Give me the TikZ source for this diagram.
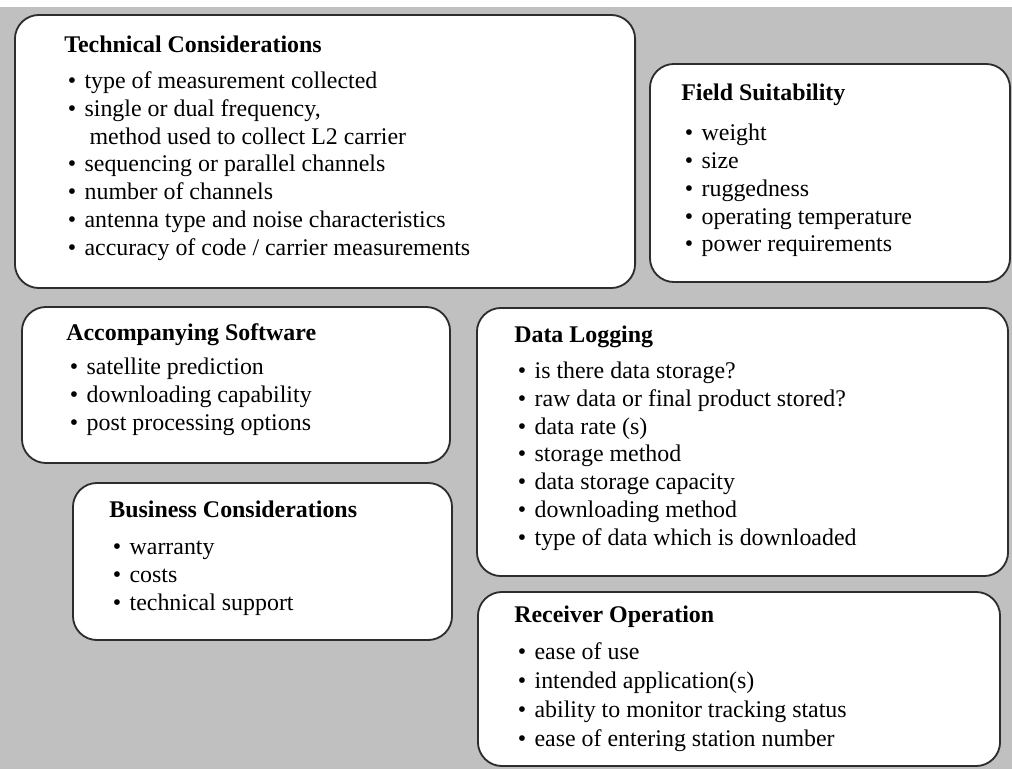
\documentclass[tikz,border=0pt]{standalone}
\usepackage{fontspec}
\setmainfont{Liberation Serif}
\definecolor{backgray}{RGB}{192,192,192}
\definecolor{edgegray}{RGB}{45,45,45}
\usepackage{tikz}
\usetikzlibrary{positioning}

% list helpers for the tabular inside each panel
\newcommand{\heading}[2]{\multicolumn{2}{@{}l@{}}{\bfseries #2}\\[#1]}
\newcommand{\itm}{\textbullet &}
\newcommand{\listcols}{@{\hspace{2.5pt}}l@{\hspace{6pt}}l@{}}

\begin{document}
\begin{tikzpicture}[x=0.025cm, y=-0.025cm,
    every node/.style={font=\fontsize{17}{19.8}\selectfont},
    panel/.style={draw=edgegray, line width=1.3pt, fill=white, rounded corners=0.6cm},
    list/.style={anchor=base west, inner sep=0pt}]
    \useasboundingbox (0,0) rectangle (1012,769);
    \fill[white] (0,0) rectangle (1012,7);
    \fill[backgray] (0,7) rectangle (1012,769);

    % panels
    \node[panel, minimum width=15.5cm, minimum height=6.825cm] (tech) at (325,151.5) {};
    \node[panel, minimum width=9cm, minimum height=5.45cm] (field) at (830,173) {};
    \node[panel, minimum width=10.7cm, minimum height=3.9cm] (soft) at (236,385) {};
    \node[panel, minimum width=9.475cm, minimum height=3.925cm] (business) at (262.5,561.5) {};
    \node[panel, minimum width=13.275cm, minimum height=6.7cm] (logging) at (742.5,442) {};
    \node[panel, minimum width=13.05cm, minimum height=4.35cm] (receiver) at (739,679) {};

    % panel contents
    \node[list] (techlist) at ([xshift=1.25cm, yshift=-0.95cm]tech.north west) {%
        \begin{tabular}[t]{\listcols}
        \heading{6pt}{Technical Considerations}
        \itm type of measurement collected\\
        \itm single or dual frequency,\\
        & \hspace{3.5pt}method used to collect L2 carrier\\
        \itm sequencing or parallel channels\\
        \itm number of channels\\
        \itm antenna type and noise characteristics\\
        \itm accuracy of code / carrier measurements
        \end{tabular}};
    \node[list] (fieldlist) at ([xshift=0.8cm, yshift=-0.925cm]field.north west) {%
        \begin{tabular}[t]{\listcols}
        \heading{9pt}{Field Suitability}
        \itm weight\\
        \itm size\\
        \itm ruggedness\\
        \itm operating temperature\\
        \itm power requirements
        \end{tabular}};
    \node[list] (softlist) at ([xshift=1.125cm, yshift=-0.85cm]soft.north west) {%
        \begin{tabular}[t]{\listcols}
        \heading{5pt}{Accompanying Software}
        \itm satellite prediction\\
        \itm downloading capability\\
        \itm post processing options
        \end{tabular}};
    \node[list] (businesslist) at ([xshift=0.925cm, yshift=-0.875cm]business.north west) {%
        \begin{tabular}[t]{\listcols}
        \heading{7pt}{Business Considerations}
        \itm warranty\\
        \itm costs\\
        \itm technical support
        \end{tabular}};
    \node[list] (logginglist) at ([xshift=0.95cm, yshift=-0.875cm]logging.north west) {%
        \begin{tabular}[t]{\listcols}
        \heading{6pt}{Data Logging}
        \itm is there data storage?\\
        \itm raw data or final product stored?\\
        \itm data rate (s)\\
        \itm storage method\\
        \itm data storage capacity\\
        \itm downloading method\\
        \itm type of data which is downloaded
        \end{tabular}};
    \node[list] (receiverlist) at ([xshift=0.925cm, yshift=-0.775cm]receiver.north west) {%
        \begin{tabular}[t]{\listcols}
        \heading{7pt}{Receiver Operation}
        \itm ease of use\\[0.8pt]
        \itm intended application(s)\\[0.8pt]
        \itm ability to monitor tracking status\\[0.8pt]
        \itm ease of entering station number
        \end{tabular}};
\end{tikzpicture}
\end{document}
